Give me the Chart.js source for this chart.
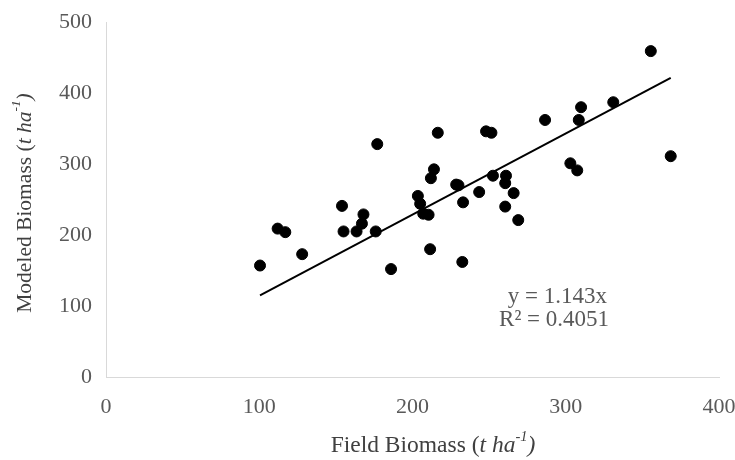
<!DOCTYPE html>
<html>
<head>
<meta charset="utf-8">
<script src="https://cdn.jsdelivr.net/npm/chart.js@4/dist/chart.umd.min.js"></script>
<style>
  html, body { margin: 0; padding: 0; background: #fff; }
  #wrap { width: 735px; height: 460px; }
</style>
</head>
<body>
<div id="wrap"><canvas id="biomass" width="735" height="460"></canvas></div>
<script>
// field biomass (x) and modeled biomass (y), t ha-1
const fieldBiomass = [100.5, 112, 117, 128, 154, 155, 163.5, 168, 167, 176, 177, 186,
    203.5, 205, 207, 210.5, 211.5, 212, 214, 216.5, 228.5, 230, 232.5, 233, 243.5,
    248, 251.5, 252.5, 260.5, 260.5, 261, 266, 269, 286.5, 303, 307.5, 308.5, 310,
    331, 355.5, 368.5];
const modeledBiomass = [157, 209, 204, 173, 241, 205, 205, 229, 216, 205, 328, 152,
    255, 244, 230, 228.5, 180, 280, 292.5, 344, 271, 270, 162, 246, 260.5,
    346, 344, 283.5, 240, 273, 283.5, 259, 221, 362, 301, 291, 362, 380,
    387, 459, 311];
const slope = 1.143;
const rSquared = '0.4051';
const xTicks = [0, 100, 200, 300, 400];
const yTicks = [0, 100, 200, 300, 400, 500];

const points = fieldBiomass.map((x, i) => ({ x: x, y: modeledBiomass[i] }));
const xMin = Math.min(...fieldBiomass);
const xMax = Math.max(...fieldBiomass);
const trend = [{ x: xMin, y: slope * xMin }, { x: xMax, y: slope * xMax }];

const serif = '"Liberation Serif", "Times New Roman", serif';
const gray = '#595959';

// draws a line of text made of styled pieces, centred on the origin
function drawRuns(ctx, runs, size) {
    let total = 0;
    runs.forEach(r => {
        ctx.font = (r.italic ? 'italic ' : '') + (r.sup ? size * 0.62 : size) + 'px ' + serif;
        r.w = ctx.measureText(r.t).width;
        total += r.w;
    });
    let x = -total / 2;
    runs.forEach(r => {
        ctx.font = (r.italic ? 'italic ' : '') + (r.sup ? size * 0.62 : size) + 'px ' + serif;
        ctx.fillText(r.t, x, r.sup ? -size * 0.38 : 0);
        x += r.w;
    });
}

const titles = {
    id: 'titles',
    afterDraw(chart) {
        const ctx = chart.ctx;
        ctx.save();
        ctx.fillStyle = '#404040';
        ctx.textAlign = 'left';
        ctx.textBaseline = 'middle';

        ctx.save();
        ctx.translate(433, 446);
        drawRuns(ctx, [
            { t: 'Field Biomass (' },
            { t: 't ha', italic: true },
            { t: '-1', italic: true, sup: true },
            { t: ')', italic: true }
        ], 23.5);
        ctx.restore();

        ctx.save();
        ctx.translate(25, 203);
        ctx.rotate(-Math.PI / 2);
        drawRuns(ctx, [
            { t: 'Modeled Biomass (' },
            { t: 't ha', italic: true },
            { t: '-1', italic: true, sup: true },
            { t: ')', italic: true }
        ], 21.5);
        ctx.restore();

        ctx.fillStyle = gray;
        ctx.font = '23px ' + serif;
        ctx.textAlign = 'right';
        ctx.fillText('y = ' + slope + 'x', 607, 297);
        ctx.fillText('R\u00b2 = ' + rSquared, 609, 320);
        ctx.restore();
    }
};

new Chart(document.getElementById('biomass'), {
    type: 'scatter',
    data: {
        datasets: [{
            label: 'Biomass',
            data: points,
            backgroundColor: '#000',
            borderColor: '#000',
            pointRadius: 5.5,
            pointHoverRadius: 5.5
        }, {
            type: 'line',
            label: 'Linear trend',
            data: trend,
            borderColor: '#000',
            borderWidth: 2,
            pointRadius: 0,
            fill: false
        }]
    },
    options: {
        responsive: false,
        animation: false,
        layout: { padding: { top: 22, right: 16, left: 0, bottom: 0 } },
        plugins: {
            legend: { display: false },
            tooltip: { enabled: false }
        },
        scales: {
            x: {
                type: 'linear',
                min: 0,
                max: 400,
                afterBuildTicks: s => { s.ticks = xTicks.map(v => ({ value: v })); },
                afterFit: s => {
                    s.height = 83;
                    s.paddingLeft = 0;
                    s.paddingRight = 0;
                },
                grid: { display: false, drawTicks: false },
                border: { color: '#d9d9d9', width: 1 },
                ticks: { color: gray, font: { family: serif, size: 22 }, padding: 17 }
            },
            y: {
                type: 'linear',
                min: 0,
                max: 500,
                afterBuildTicks: s => { s.ticks = yTicks.map(v => ({ value: v })); },
                afterFit: s => {
                    s.width = 106;
                    s.paddingTop = 0;
                    s.paddingBottom = 0;
                },
                grid: { display: false, drawTicks: false },
                border: { color: '#d9d9d9', width: 1 },
                ticks: { color: gray, font: { family: serif, size: 22 }, padding: 14 }
            }
        }
    },
    plugins: [titles]
});
</script>
</body>
</html>
